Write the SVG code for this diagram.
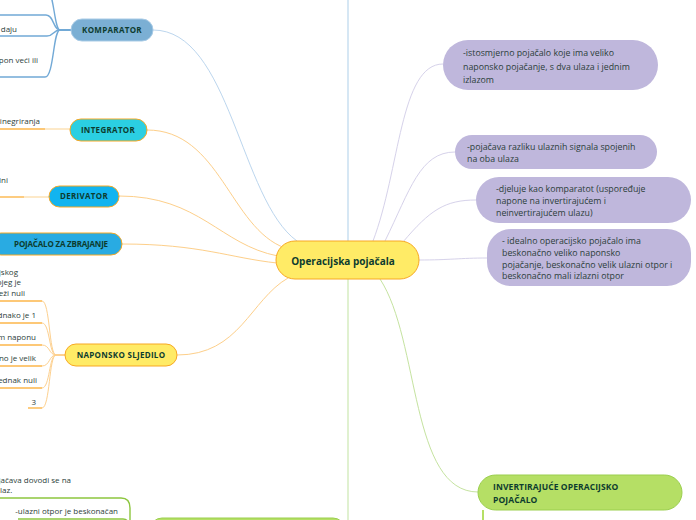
<svg xmlns="http://www.w3.org/2000/svg" width="696" height="520" viewBox="0 0 696 520">
<style>
.lbl{font-family:"Open Sans","Noto Sans",sans-serif;font-weight:bold;font-size:8px;fill:#0d3c2f;letter-spacing:0.3px}
.txt{font-family:"Open Sans","Noto Sans",sans-serif;font-size:8px;fill:#2c3e3a}
.ptxt{font-family:"Open Sans","Noto Sans",sans-serif;font-size:8.8px;fill:#2c3e3a}
.c{fill:none;stroke-width:1}
.ub{fill:none;stroke:#72a9d6;stroke-width:1.4}
.uo{fill:none;stroke:#fdb64a;stroke-width:1.4}
.ug{fill:none;stroke:#8dc63f;stroke-width:1.4}
.org{fill:none;stroke:#fdd08e;stroke-width:1}
.pur{fill:#bfb7dc}
</style>
<rect width="696" height="520" fill="#ffffff"/>
<g id="connectors">
<line x1="348" y1="0" x2="348" y2="241" stroke="#c9dff0" stroke-width="1.5"/>
<line x1="348" y1="279" x2="348" y2="520" stroke="#d6ecc0" stroke-width="1.5"/>
<path class="c" stroke="#bcd6ee" d="M153,30 C230,30 240,200 297,241"/>
<path class="c" stroke="#fdcf8a" d="M147,130 C220,130 230,228 285,248"/>
<path class="c" stroke="#fdcf8a" d="M119,196 C200,196 220,245 278,256"/>
<path class="c" stroke="#fdcf8a" d="M122,244 C200,244 230,258 277,263"/>
<path class="c" stroke="#fdcf8a" d="M177,355 C240,355 250,300 288,278"/>
<path class="c" stroke="#d6d2ea" d="M373,241 C400,170 400,64 443,64"/>
<path class="c" stroke="#d6d2ea" d="M385,241 C410,190 420,152 455,152"/>
<path class="c" stroke="#d6d2ea" d="M403,242 C430,210 445,200 476,200"/>
<path class="c" stroke="#d6d2ea" d="M419,260 C450,260 460,258 487,258"/>
<path class="c" stroke="#c5e3a0" d="M380,279 C420,340 410,492 478,492"/>
<line x1="483" y1="510" x2="483" y2="520" stroke="#b5df65" stroke-width="2"/>
<path class="ub" d="M71,30 H60 C54,30 54,-12 46,-12 H0"/>
<path class="ub" d="M71,30 H60 C53,30 54,15 46,15 H0"/>
<path class="ub" d="M71,30 H60 C53,30 54,36 47,36 H0"/>
<path class="ub" d="M71,30 H60 C53,30 54,77 45,77 H0"/>
<line x1="45" y1="129" x2="70" y2="129" stroke="#fde0b0" stroke-width="1.4"/>
<line x1="0" y1="129" x2="45" y2="129" stroke="#fdb64a" stroke-width="1.4"/>
<line x1="24" y1="197" x2="49" y2="197" stroke="#fde0b0" stroke-width="1.4"/>
<line x1="0" y1="197" x2="24" y2="197" stroke="#fdb64a" stroke-width="1.4"/>
<path class="org" d="M65,355 H56 C49,355 50,301 42,301"/>
<path class="org" d="M65,355 H56 C49,355 50,323 42,323"/>
<path class="org" d="M65,355 H56 C49,355 50,345 42,345"/>
<path class="org" d="M65,355 H56 C49,355 50,366 42,366"/>
<path class="org" d="M65,355 H56 C49,355 50,388 42,388"/>
<path class="org" d="M65,355 H56 C49,355 50,408 42,408"/>
<path class="uo" d="M0,301 H42"/>
<path class="uo" d="M0,323 H42"/>
<path class="uo" d="M0,345 H42"/>
<path class="uo" d="M0,366 H42"/>
<path class="uo" d="M0,388 H42"/>
<path class="uo" d="M28,408 H42"/>
<path class="ug" d="M0,498 H121 Q130,498 130,508 V520"/>
<path class="ug" d="M18,519 H123 Q128,519 128,524"/>
</g>
<g id="center">
<rect x="276" y="241" width="143" height="38" rx="19" fill="#ffeb66" stroke="#f7a823" stroke-width="1"/>
<text x="343" y="265" text-anchor="middle" style="font-family:'Open Sans','Noto Sans',sans-serif;font-weight:bold;font-size:10px;fill:#0d3c2f">Operacijska pojačala</text>
</g>
<g id="komparator">
<rect x="71" y="19" width="82" height="22" rx="11" fill="#7bafd4" stroke="#a9cbe6" stroke-width="1"/>
<text class="lbl" x="112" y="33" text-anchor="middle">KOMPARATOR</text>
</g>
<g id="komparator-children">
<text class="txt" x="17" y="32" text-anchor="end">u daju</text>
<text class="txt" x="38" y="63" text-anchor="end">pon veći ili</text>
</g>
<g id="integrator">
<rect x="70" y="119" width="77" height="22" rx="11" fill="#2bcfe2" stroke="#f7a823" stroke-width="1"/>
<text class="lbl" x="108" y="133" text-anchor="middle">INTEGRATOR</text>
<text class="txt" x="40" y="124" text-anchor="end">inegriranja</text>
</g>
<g id="derivator">
<rect x="49" y="186" width="70" height="21" rx="10.5" fill="#12b4ef" stroke="#f7a823" stroke-width="1"/>
<text class="lbl" x="84" y="199" text-anchor="middle">DERIVATOR</text>
<text class="txt" x="8" y="183" text-anchor="end">ini</text>
</g>
<g id="zbrajanje">
<rect x="-10" y="233" width="132" height="22" rx="11" fill="#29abe2" stroke="#f7a823" stroke-width="1"/>
<text class="lbl" x="61" y="247" text-anchor="middle" style="letter-spacing:-0.2px">POJAČALO ZA ZBRAJANJE</text>
</g>
<g id="naponsko">
<rect x="65" y="344" width="112" height="22" rx="11" fill="#ffeb66" stroke="#f7a823" stroke-width="1"/>
<text class="lbl" x="121" y="358" text-anchor="middle">NAPONSKO SLJEDILO</text>
</g>
<g id="naponsko-children">
<text class="txt" x="18" y="275" text-anchor="end">jskog</text>
<text class="txt" x="21" y="285" text-anchor="end">ojeg je</text>
<text class="txt" x="25" y="296" text-anchor="end">eži nuli</text>
<text class="txt" x="36" y="318" text-anchor="end">dnako je 1</text>
<text class="txt" x="36" y="340" text-anchor="end">m naponu</text>
<text class="txt" x="36" y="361" text-anchor="end">čno je velik</text>
<text class="txt" x="37" y="383" text-anchor="end">ednak nuli</text>
<text class="txt" x="36" y="405" text-anchor="end">3</text>
</g>
<g id="p1">
<rect class="pur" x="443" y="40" width="215" height="50" rx="25"/>
<text class="ptxt" x="463" y="56">-istosmjerno pojačalo koje ima veliko</text>
<text class="ptxt" x="463" y="70">naponsko pojačanje, s dva ulaza i jednim</text>
<text class="ptxt" x="463" y="83">izlazom</text>
</g>
<g id="p2">
<rect class="pur" x="455" y="135" width="202" height="34" rx="17"/>
<text class="ptxt" x="467" y="150">-pojačava razliku ulaznih signala spojenih</text>
<text class="ptxt" x="467" y="162">na oba ulaza</text>
</g>
<g id="p3">
<rect class="pur" x="476" y="177" width="215" height="46" rx="23"/>
<text class="ptxt" x="496" y="192">-djeluje kao komparatot (uspoređuje</text>
<text class="ptxt" x="496" y="204">napone na invertirajućem i</text>
<text class="ptxt" x="496" y="216">neinvertirajućem ulazu)</text>
</g>
<g id="p4">
<rect class="pur" x="487" y="229" width="204" height="57" rx="24"/>
<text class="ptxt" x="502" y="244">- idealno operacijsko pojačalo ima</text>
<text class="ptxt" x="502" y="256">beskonačno veliko naponsko</text>
<text class="ptxt" x="502" y="268">pojačanje, beskonačno velik ulazni otpor i</text>
<text class="ptxt" x="502" y="279">beskonačno mali izlazni otpor</text>
</g>
<g id="invertirajuce">
<rect x="478" y="475" width="204" height="35" rx="17.5" fill="#b5df65" stroke="#9bcf4f" stroke-width="1"/>
<text class="lbl" x="493" y="490" style="font-size:8.5px;letter-spacing:0.1px">INVERTIRAJUĆE OPERACIJSKO</text>
<text class="lbl" x="493" y="503" style="font-size:8.5px;letter-spacing:0.1px">POJAČALO</text>
</g>
<g id="bottom-green">
<rect x="150" y="518" width="195" height="30" rx="12" fill="#b5df65" stroke="#9bcf4f" stroke-width="1"/>
<text class="txt" x="71" y="483" text-anchor="end">ojačava dovodi se na</text>
<text class="txt" x="0" y="493">laz.</text>
<text class="txt" x="118" y="514" text-anchor="end">-ulazni otpor je beskonačan</text>
</g>
</svg>
